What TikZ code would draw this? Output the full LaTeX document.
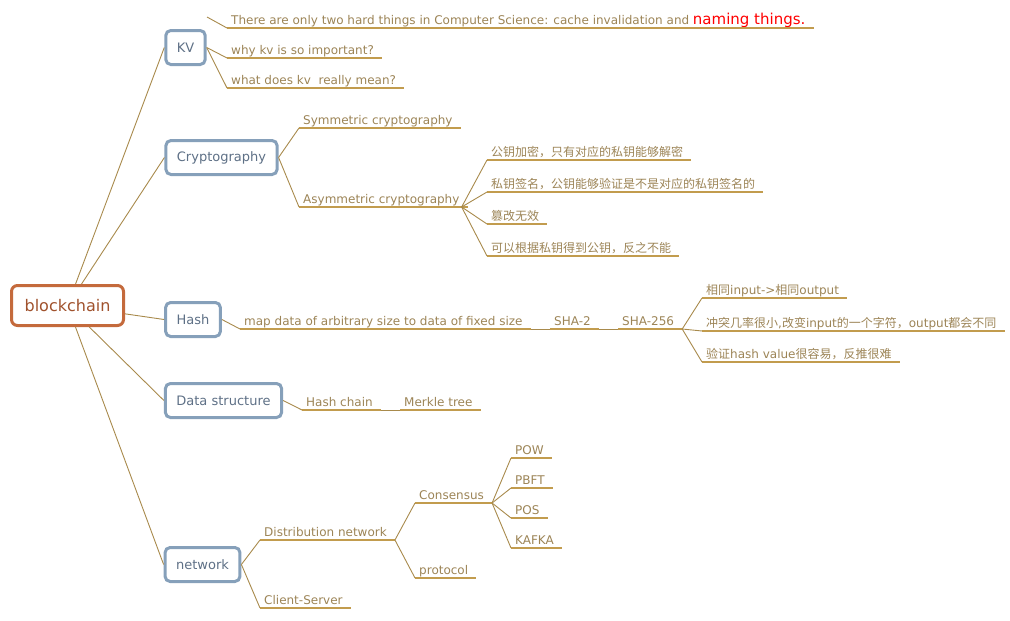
\documentclass[tikz,border=0pt]{standalone}
\usepackage{fontspec}
\setmainfont{DejaVu Sans}
\newfontfamily\cjkfont{Noto Sans CJK SC}
\newcommand\zhtext[1]{{\cjkfont #1}}
\definecolor{conncol}{HTML}{A88A4C}
\definecolor{ulcol}{HTML}{C29C4E}
\definecolor{leaftext}{HTML}{9C8456}
\definecolor{boxcol}{HTML}{86A0BA}
\definecolor{boxtext}{HTML}{5E7086}
\definecolor{rootcol}{HTML}{C46A3C}
\definecolor{roottext}{HTML}{A0522D}
\tikzset{
  rootbox/.style={draw=rootcol, line width=3pt, rounded corners=6pt, fill=white,
    text=roottext, font=\fontsize{16}{19}\selectfont, minimum width=112pt,
    minimum height=40pt, inner xsep=12pt},
  topicbox/.style={draw=boxcol, line width=3pt, rounded corners=5pt, fill=white,
    text=boxtext, font=\fontsize{13}{16}\selectfont, minimum height=34pt, inner xsep=11pt},
  leaf/.style={anchor=south west, inner xsep=4pt, inner ysep=0pt, text height=11pt,
    text depth=3pt, text=leaftext, font=\fontsize{12}{14}\selectfont},
  conn/.style={draw=conncol, line width=0.9pt},
  uline/.style={draw=ulcol, line width=1.1pt},
}
\begin{document}
\begin{tikzpicture}[x=1pt, y=-1pt]
\useasboundingbox (0,0) rectangle (1010,621);
% main topics
\node[rootbox] (root) at (67.5,305.5) {blockchain};
\node[topicbox] (kv) at (185.5,47.5) {KV};
\node[topicbox] (crypto) at (221.5,157.5) {Cryptography};
\node[topicbox] (hash) at (193,319.5) {Hash};
\node[topicbox] (ds) at (223.5,400.5) {Data structure};
\node[topicbox] (net) at (202.5,564.5) {network};
% leaves
\node[leaf] (kv1) at (227,28) {There are only two hard things in Computer Science: cache invalidation and {\color{red}\fontsize{15}{18}\selectfont naming things.}};
\node[leaf] (kv2) at (227,58) {why kv is so important?};
\node[leaf] (kv3) at (227,88) {what does kv\ \ really mean?};
\node[leaf] (sym) at (299,128) {Symmetric cryptography};
\node[leaf] (asym) at (299,207) {Asymmetric cryptography};
\node[leaf] (a1) at (487,160) {\zhtext{公钥加密，只有对应的私钥能够解密}};
\node[leaf] (a2) at (487,192) {\zhtext{私钥签名，公钥能够验证是不是对应的私钥签名的}};
\node[leaf] (a3) at (487,224) {\zhtext{篡改无效}};
\node[leaf] (a4) at (487,256) {\zhtext{可以根据私钥得到公钥，反之不能}};
\node[leaf] (map) at (240,329) {map data of arbitrary size to data of fixed size};
\node[leaf] (sha2) at (550,329) {SHA-2};
\node[leaf] (sha256) at (618,329) {SHA-256};
\node[leaf] (h1) at (702,298) {\zhtext{相同}input-\textgreater\zhtext{相同}output};
\node[leaf] (h2) at (702,331) {\zhtext{冲突几率很小},\zhtext{改变}input\zhtext{的一个字符，}output\zhtext{都会不同}};
\node[leaf] (h3) at (702,362) {\zhtext{验证}hash value\zhtext{很容易，反推很难}};
\node[leaf] (hc) at (302,410) {Hash chain};
\node[leaf] (mk) at (400,410) {Merkle tree};
\node[leaf] (dist) at (260,540) {Distribution network};
\node[leaf] (cs) at (260,608) {Client-Server};
\node[leaf] (cons) at (415,503) {Consensus};
\node[leaf] (proto) at (415,578) {protocol};
\node[leaf] (pow) at (511,458) {POW};
\node[leaf] (pbft) at (511,488) {PBFT};
\node[leaf] (pos) at (511,518) {POS};
\node[leaf] (kafka) at (511,548) {KAFKA};
% underlines
\foreach \n in {kv1,kv2,kv3,sym,asym,a1,a2,a3,a4,map,sha2,sha256,h1,h2,h3,hc,mk,dist,cs,cons,proto,pow,pbft,pos,kafka}
  \draw[uline] (\n.south west) -- ([xshift=4pt]\n.south east);
% fork points
\coordinate (kvq) at (207,17);
\coordinate (asymend) at ([xshift=-2pt]asym.south east);
\coordinate (mapend) at ([xshift=4pt]map.south east);
\coordinate (sha2end) at ([xshift=4pt]sha2.south east);
\coordinate (shaend) at ([xshift=4pt]sha256.south east);
\coordinate (hcend) at ([xshift=4pt]hc.south east);
\coordinate (distend) at ([xshift=4pt]dist.south east);
\coordinate (consend) at ([xshift=4pt]cons.south east);
% connectors from root
\foreach \t in {kv,crypto,hash,ds,net}
  \draw[conn] (root) -- (\t.west);
% KV
\draw[conn] (kvq) -- (kv1.south west);
\draw[conn] (kv.east) -- (kv2.south west);
\draw[conn] (kv.east) -- (kv3.south west);
% Cryptography
\draw[conn] (crypto.east) -- (sym.south west);
\draw[conn] (crypto.east) -- (asym.south west);
\foreach \t in {a1,a2,a3,a4}
  \draw[conn] (asymend) -- (\t.south west);
% Hash
\draw[conn] (hash.east) -- (map.south west);
\draw[conn] (mapend) -- (sha2.south west);
\draw[conn] (sha2end) -- (sha256.south west);
\foreach \t in {h1,h2,h3}
  \draw[conn] (shaend) -- (\t.south west);
% Data structure
\draw[conn] (ds.east) -- (hc.south west);
\draw[conn] (hcend) -- (mk.south west);
% network
\draw[conn] (net.east) -- (dist.south west);
\draw[conn] (net.east) -- (cs.south west);
\draw[conn] (distend) -- (cons.south west);
\draw[conn] (distend) -- (proto.south west);
\foreach \t in {pow,pbft,pos,kafka}
  \draw[conn] (consend) -- (\t.south west);
\end{tikzpicture}
\end{document}
